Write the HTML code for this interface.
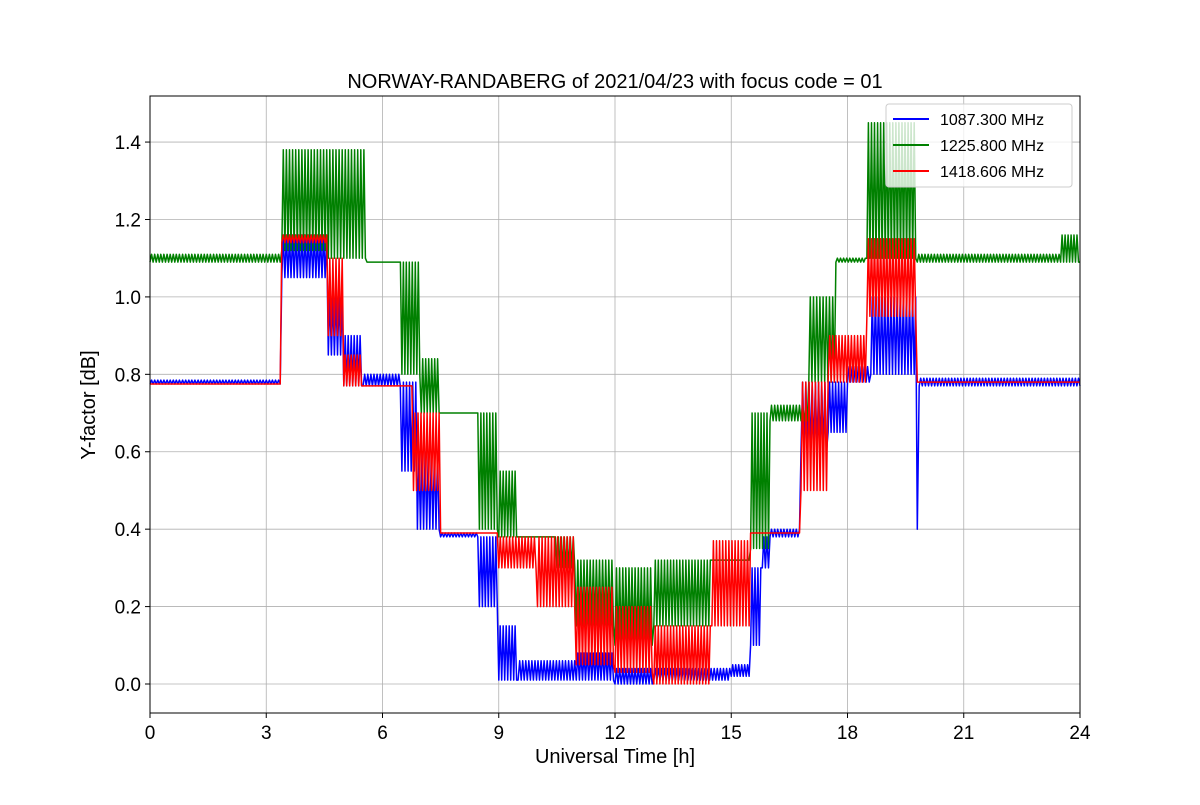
<!DOCTYPE html>
<html><head><meta charset="utf-8"><style>
body{margin:0;background:#fff;}
svg text{font-family:"Liberation Sans","DejaVu Sans",sans-serif;fill:#000;}
</style></head><body>
<svg id="chart" width="1200" height="800" xmlns="http://www.w3.org/2000/svg">
<rect width="1200" height="800" fill="#fff"/>
<g id="grid"></g>
<g id="series"></g>
<rect x="150" y="96" width="930" height="617" fill="none" stroke="#000" stroke-width="1"/>
<g id="axes"></g>
<text x="615" y="88" text-anchor="middle" font-size="20">NORWAY-RANDABERG of 2021/04/23 with focus code = 01</text>
<text x="615" y="763" text-anchor="middle" font-size="20">Universal Time [h]</text>
<text x="95" y="405" text-anchor="middle" font-size="20" transform="rotate(-90 95 405)">Y-factor [dB]</text>
<g>
<rect x="886" y="104" width="186" height="83" rx="3" fill="#fff" fill-opacity="0.8" stroke="#ccc"/>
<line x1="893" y1="119" x2="929" y2="119" stroke="#0000ff" stroke-width="2"/>
<text x="940" y="125" font-size="16">1087.300 MHz</text>
<line x1="893" y1="145" x2="929" y2="145" stroke="#008000" stroke-width="2"/>
<text x="940" y="151" font-size="16">1225.800 MHz</text>
<line x1="893" y1="171" x2="929" y2="171" stroke="#ff0000" stroke-width="2"/>
<text x="940" y="177" font-size="16">1418.606 MHz</text>
</g>
</svg>
<script>
const xTicks=[0,3,6,9,12,15,18,21,24];
const yTicks=[0.0,0.2,0.4,0.6,0.8,1.0,1.2,1.4];
const blueT=[0,3.4,4.6,5.0,5.5,6.5,6.9,7.5,8.5,9.0,9.5,11,12,13,15,15.5,15.8,16,16.8,17.5,18,18.6,19.8,19.85,24];
const blueLo=[0.775,1.05,0.85,0.77,0.77,0.55,0.40,0.38,0.20,0.01,0.01,0.01,0.00,0.01,0.02,0.10,0.30,0.38,0.60,0.65,0.78,0.80,0.40,0.77];
const blueHi=[0.785,1.16,1.00,0.90,0.80,0.78,0.60,0.39,0.38,0.15,0.06,0.08,0.04,0.04,0.05,0.30,0.38,0.40,0.78,0.78,0.82,1.00,0.80,0.79];
const greenT=[0,3.4,4.6,5.6,6.5,7.0,7.5,8.5,9.0,9.5,10.5,11,12,13,14.5,15.5,16,17,17.7,18.5,19.8,23.5,24];
const greenLo=[1.09,1.12,1.10,1.09,0.80,0.70,0.70,0.40,0.38,0.38,0.30,0.15,0.10,0.15,0.32,0.35,0.68,0.78,1.09,1.10,1.09,1.09];
const greenHi=[1.11,1.38,1.38,1.09,1.09,0.84,0.70,0.70,0.55,0.38,0.38,0.32,0.30,0.32,0.32,0.70,0.72,1.00,1.10,1.45,1.11,1.16];
const redT=[0,3.4,4.6,5.0,5.5,6.8,7.5,9,10,11,12,13,14.5,15.5,16.8,17.5,18.5,19.8,24];
const redLo=[0.775,1.14,0.90,0.77,0.77,0.50,0.39,0.30,0.20,0.05,0.03,0.00,0.15,0.39,0.50,0.78,0.95,0.78];
const redHi=[0.775,1.16,1.10,0.85,0.77,0.70,0.39,0.38,0.38,0.25,0.20,0.15,0.37,0.39,0.78,0.90,1.15,0.78];
const X0=150,X1=1080,YT=96,YB=713,yMin=-0.0749,yMax=1.519;
const xs=t=>X0+(t/24)*(X1-X0);
const ys=v=>YB-(v-yMin)/(yMax-yMin)*(YB-YT);
const NS="http://www.w3.org/2000/svg";
const grid=document.getElementById('grid'),axes=document.getElementById('axes'),sg=document.getElementById('series');
xTicks.forEach(t=>{const x=xs(t);
 const g=document.createElementNS(NS,'line');g.setAttribute('x1',x);g.setAttribute('x2',x);g.setAttribute('y1',YT);g.setAttribute('y2',YB);g.setAttribute('stroke','#b0b0b0');g.setAttribute('stroke-width','0.8');
 
 grid.appendChild(g);
 const k=document.createElementNS(NS,'line');k.setAttribute('x1',x);k.setAttribute('x2',x);k.setAttribute('y1',YB);k.setAttribute('y2',YB+5);k.setAttribute('stroke','#000');
 
 axes.appendChild(k);
 const l=document.createElementNS(NS,'text');l.setAttribute('x',x);l.setAttribute('y',YB+26);l.setAttribute('text-anchor','middle');l.setAttribute('font-size','19');l.textContent=t;
 
 axes.appendChild(l);});
yTicks.forEach(v=>{const y=ys(v);
 const g=document.createElementNS(NS,'line');g.setAttribute('x1',X0);g.setAttribute('x2',X1);g.setAttribute('y1',y);g.setAttribute('y2',y);g.setAttribute('stroke','#b0b0b0');g.setAttribute('stroke-width','0.8');
 
 grid.appendChild(g);
 const k=document.createElementNS(NS,'line');k.setAttribute('x1',X0-5);k.setAttribute('x2',X0);k.setAttribute('y1',y);k.setAttribute('y2',y);k.setAttribute('stroke','#000');
 
 axes.appendChild(k);
 const l=document.createElementNS(NS,'text');l.setAttribute('x',X0-9);l.setAttribute('y',y+7);l.setAttribute('text-anchor','end');l.setAttribute('font-size','19');l.textContent=v.toFixed(1);
 
 axes.appendChild(l);});
function draw(T,lo,hi,color,name){
 let pts=[];
 for(let i=0;i<T.length-1;i++){
  const a=T[i],b=T[i+1];const n=Math.max(1,Math.round((b-a)/0.04));
  for(let j=0;j<n;j++){const t=a+(b-a)*j/n;const v=(j%2===0)?lo[i]:hi[i];pts.push(xs(t).toFixed(1)+','+ys(v).toFixed(1));}
 }
 pts.push(xs(T[T.length-1]).toFixed(1)+','+ys(lo[lo.length-1]).toFixed(1));
 const p=document.createElementNS(NS,'polyline');p.setAttribute('points',pts.join(' '));p.setAttribute('fill','none');p.setAttribute('stroke',color);p.setAttribute('stroke-width','1.5');p.setAttribute('stroke-linejoin','round');
 
 sg.appendChild(p);
}
draw(blueT,blueLo,blueHi,'#0000ff','series-1087-mhz');
draw(greenT,greenLo,greenHi,'#008000','series-1225-mhz');
draw(redT,redLo,redHi,'#ff0000','series-1418-mhz');
</script>
</body></html>
